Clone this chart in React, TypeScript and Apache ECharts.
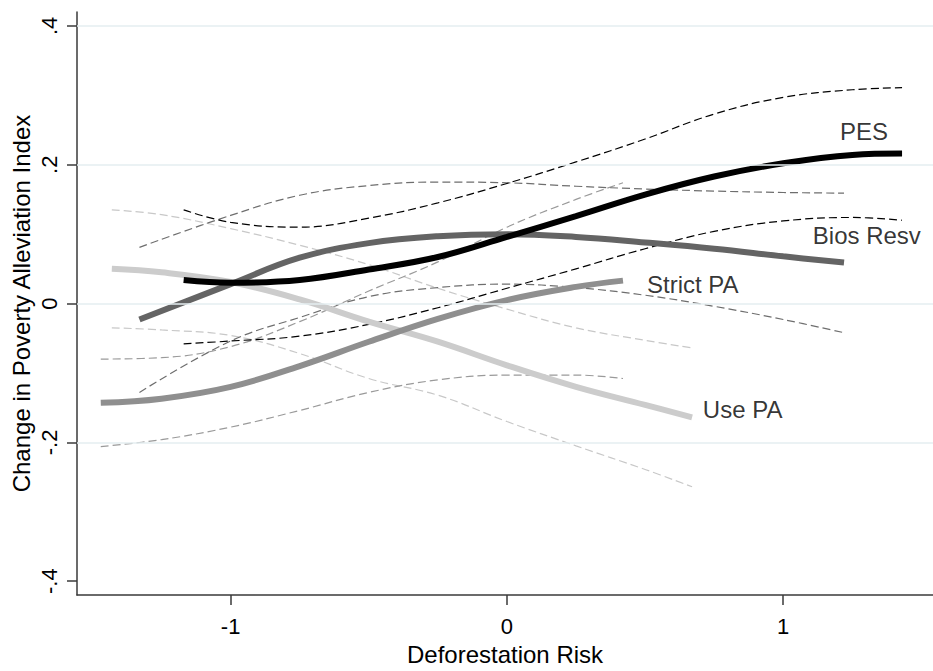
import React, { useEffect, useRef } from "react";
import * as echarts from "echarts";

// Axis settings
const xTicks = [-1, 0, 1];
const yTicks = [-0.4, -0.2, 0, 0.2, 0.4];
const gridVals = [-0.2, 0, 0.2, 0.4];
const xRange = [-1.556, 1.542];
const yRange = [-0.42, 0.42];

// PES
const pesX = [-1.17, -1.0, -0.75, -0.5, -0.25, 0, 0.25, 0.5, 0.75, 1.0, 1.25, 1.43];
const pesY = [0.034, 0.030, 0.034, 0.049, 0.067, 0.096, 0.126, 0.157, 0.183, 0.202, 0.214, 0.216];
const pesHi = [0.135, 0.117, 0.110, 0.123, 0.145, 0.173, 0.204, 0.237, 0.273, 0.297, 0.308, 0.311];
const pesLo = [-0.058, -0.054, -0.047, -0.030, -0.006, 0.022, 0.050, 0.079, 0.104, 0.119, 0.124, 0.120];

// Bios Resv
const biosX = [-1.33, -1.0, -0.75, -0.5, -0.25, 0, 0.25, 0.5, 0.75, 1.0, 1.22];
const biosY = [-0.023, 0.028, 0.066, 0.087, 0.097, 0.100, 0.096, 0.088, 0.079, 0.068, 0.059];
const biosHi = [0.081, 0.127, 0.156, 0.170, 0.175, 0.174, 0.169, 0.165, 0.162, 0.160, 0.159];
const biosLo = [-0.128, -0.054, -0.020, 0.010, 0.023, 0.028, 0.023, 0.012, -0.004, -0.023, -0.042];

// Strict PA
const strictX = [-1.47, -1.25, -1.0, -0.75, -0.5, -0.25, 0, 0.25, 0.42];
const strictY = [-0.143, -0.137, -0.120, -0.090, -0.055, -0.022, 0.005, 0.024, 0.033];
const strictHi = [-0.080, -0.078, -0.062, -0.026, 0.018, 0.060, 0.110, 0.150, 0.174];
const strictLo = [-0.206, -0.196, -0.178, -0.154, -0.128, -0.110, -0.103, -0.103, -0.108];

// Use PA
const useX = [-1.43, -1.25, -1.0, -0.75, -0.5, -0.25, 0, 0.25, 0.5, 0.67];
const useY = [0.050, 0.045, 0.031, 0.006, -0.026, -0.055, -0.089, -0.120, -0.146, -0.164];
const useHi = [0.135, 0.128, 0.108, 0.084, 0.056, 0.022, -0.008, -0.035, -0.053, -0.064];
const useLo = [-0.035, -0.038, -0.046, -0.072, -0.108, -0.132, -0.170, -0.205, -0.239, -0.264];

// Line labels
const labelNames = ["PES", "Bios Resv", "Strict PA", "Use PA"];
const labelX = [1.205, 1.107, 0.507, 0.709];
const labelY = [0.2485, 0.0977, 0.028, -0.152];

const FONT = "'Liberation Sans', Arial, Helvetica, sans-serif";

function pairs(xs: number[], ys: number[]) {
  return xs.map((x, i) => [x, ys[i]]);
}

function fmtY(v: number) {
  if (Math.abs(v) < 1e-9) return "0";
  const s = String(Math.abs(Math.round(v * 10) / 10)).replace(/^0/, "");
  return (v < 0 ? "-" : "") + s;
}

export default function App() {
  const ref = useRef<HTMLDivElement>(null);
  useEffect(() => {
    document.body.style.margin = "0";
    const chart = echarts.init(ref.current!, null, { renderer: "svg" });

    const ci = (name: string, xs: number[], ys: number[], color: string) => ({
      name,
      type: "line",
      data: pairs(xs, ys),
      showSymbol: false,
      symbol: "none",
      smooth: 0.4,
      silent: true,
      z: 2,
      lineStyle: { color, width: 1.2, type: [8, 4] },
    });
    const main = (name: string, xs: number[], ys: number[], color: string) => ({
      name,
      type: "line",
      data: pairs(xs, ys),
      showSymbol: false,
      symbol: "none",
      smooth: 0.4,
      silent: true,
      z: 3,
      lineStyle: { color, width: 6, cap: "butt" },
    });

    const axisCommon = {
      axisLine: { show: true, onZero: false, lineStyle: { color: "#3a3a3a", width: 1.5 } },
      axisTick: { show: true, length: 10, lineStyle: { color: "#3a3a3a", width: 1.5 } },
      splitLine: { show: false },
    };

    chart.setOption({
      animation: false,
      backgroundColor: "#ffffff",
      textStyle: { fontFamily: FONT },
      grid: { left: 77, right: 0, top: 12, bottom: 69, containLabel: false },
      xAxis: {
        type: "value",
        min: xRange[0],
        max: xRange[1],
        ...axisCommon,
        axisTick: { ...axisCommon.axisTick, customValues: xTicks },
        axisLabel: {
          customValues: xTicks,
          margin: 20,
          fontSize: 22,
          color: "#000",
          fontFamily: FONT,
          formatter: (v: number) => String(v),
        },
        name: "Deforestation Risk",
        nameLocation: "middle",
        nameGap: 40,
        nameTextStyle: { fontSize: 24, color: "#000", fontFamily: FONT },
      },
      yAxis: {
        type: "value",
        min: yRange[0],
        max: yRange[1],
        ...axisCommon,
        axisTick: { ...axisCommon.axisTick, customValues: yTicks },
        axisLabel: { show: false },
        name: "Change in Poverty Alleviation Index",
        nameLocation: "middle",
        nameGap: 44,
        nameRotate: 90,
        nameTextStyle: { fontSize: 24, color: "#000", fontFamily: FONT },
      },
      series: [
        {
          name: "grid",
          type: "line",
          data: [],
          silent: true,
          z: 1,
          markLine: {
            silent: true,
            symbol: "none",
            label: { show: false },
            lineStyle: { color: "#e4eef0", width: 1.6, type: "solid" },
            data: gridVals.map((v) => ({ yAxis: v })),
          },
        },
        ci("Use PA hi", useX, useHi, "#c8c8c8"),
        ci("Use PA lo", useX, useLo, "#c8c8c8"),
        ci("Strict PA hi", strictX, strictHi, "#9a9a9a"),
        ci("Strict PA lo", strictX, strictLo, "#9a9a9a"),
        ci("Bios hi", biosX, biosHi, "#6e6e6e"),
        ci("Bios lo", biosX, biosLo, "#6e6e6e"),
        ci("PES hi", pesX, pesHi, "#000000"),
        ci("PES lo", pesX, pesLo, "#000000"),
        main("Use PA", useX, useY, "#cccccc"),
        main("Strict PA", strictX, strictY, "#8f8f8f"),
        main("Bios Resv", biosX, biosY, "#646464"),
        main("PES", pesX, pesY, "#000000"),
        {
          name: "labels",
          type: "scatter",
          symbolSize: 0,
          silent: true,
          z: 4,
          data: labelX.map((x, i) => ({ value: [x, labelY[i]], name: labelNames[i] })),
          label: {
            show: true,
            position: "right",
            distance: 0,
            formatter: "{b}",
            fontSize: 24,
            color: "#000",
            fontFamily: FONT,
          },
        },
      ],
    });

    // Rotated y tick labels placed through the axis scale
    const axisPx = chart.convertToPixel({ xAxisIndex: 0 }, xRange[0]) as number;
    const labelCenterX = axisPx - 28;
    chart.setOption({
      graphic: yTicks.map((v) => ({
        type: "text",
        x: labelCenterX,
        y: chart.convertToPixel({ yAxisIndex: 0 }, v) as number,
        rotation: Math.PI / 2,
        silent: true,
        style: {
          text: fmtY(v),
          fontSize: 22,
          fontFamily: FONT,
          fill: "#000",
          align: "center",
          verticalAlign: "middle",
        },
      })),
    });
    return () => chart.dispose();
  }, []);
  return <div ref={ref} style={{ width: 933, height: 671 }} />;
}
